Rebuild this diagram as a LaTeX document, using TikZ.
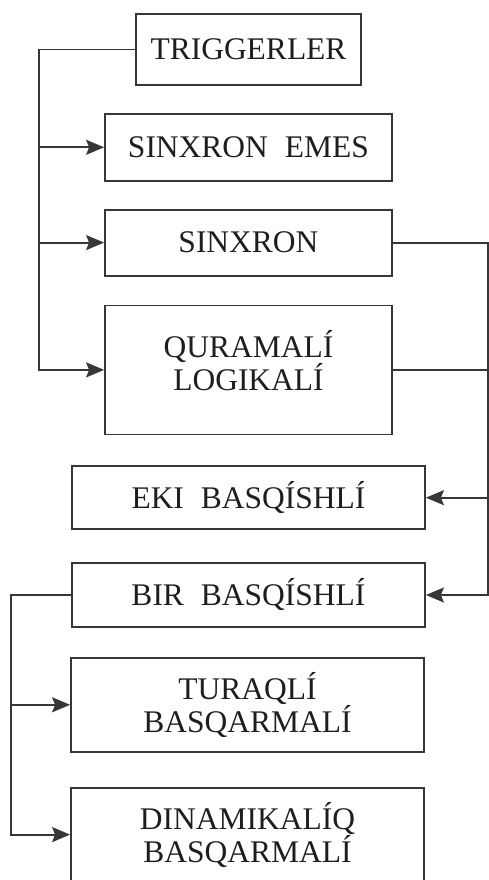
\documentclass[tikz,border=0pt]{standalone}
\usepackage{fontspec}
\setmainfont{Liberation Serif}
\usetikzlibrary{arrows.meta,positioning}
\definecolor{LineGray}{RGB}{55,55,55}
\definecolor{TextBlack}{RGB}{30,30,30}
\newcommand{\boxfont}{\fontsize{31.5}{33}\selectfont}
\newcommand{\wgap}{\hspace{17pt}}
\tikzset{
  kind/.style={draw=LineGray, line width=1.8pt, inner sep=0pt, align=center,
    font=\boxfont, text=TextBlack},
  topbox/.style={kind, minimum width=225pt, minimum height=71pt},
  midbox/.style={kind, minimum width=287pt, minimum height=67pt},
  lowbox/.style={kind, minimum width=353pt, minimum height=64pt},
  wire/.style={line width=1.8pt, LineGray},
  arrow/.style={-{Stealth[length=18pt, width=15pt, inset=3pt]}, line width=1.8pt, LineGray}
}
\begin{document}
\begin{tikzpicture}[node distance=28pt]
  \useasboundingbox (0,0) rectangle (488pt,-880pt);
  \node[topbox] (trig) at (248.5pt,-49.5pt) {TRIGGERLER};
  \node[midbox, below=27pt of trig] (emes) {SINXRON\wgap EMES};
  \node[midbox, minimum height=66pt, below=27pt of emes] (sinx) {SINXRON};
  \node[midbox, minimum height=129pt, below=of sinx] (quram) {};
  \node[kind, draw=none, text=TextBlack] (quramtext) at ([yshift=9pt]quram.center) {QURAMALÍ\\LOGIKALÍ};
  \node[lowbox, minimum height=63pt, below=30pt of quram] (eki) {EKI\wgap BASQÍSHLÍ};
  \node[lowbox, below=32pt of eki] (bir) {BIR\wgap BASQÍSHLÍ};
  \node[lowbox, minimum height=94pt, below=29pt of bir, xshift=-1pt] (tur) {TURAQLÍ\\BASQARMALÍ};
  \node[lowbox, minimum height=94pt, below=34pt of tur] (dina) {DINAMIKALÍQ\\BASQARMALÍ};
  % left branch
  \coordinate (lbus) at ([xshift=-96pt]trig.west);
  \draw[arrow] (trig.west) -- (lbus) |- (quram.west);
  \draw[arrow] (lbus |- emes.west) -- (emes.west);
  \draw[arrow] (lbus |- sinx.west) -- (sinx.west);
  % right branch
  \coordinate (rbus) at ([xshift=95pt]sinx.east);
  \draw[arrow] (sinx.east) -- (rbus) |- (bir.east);
  \draw[wire] (quram.east) -- (quram.east -| rbus);
  \draw[arrow] (eki.east -| rbus) -- (eki.east);
  % bottom branch
  \coordinate (bbus) at ([xshift=-60pt]bir.west);
  \draw[arrow] (bir.west) -- (bbus) |- (dina.west);
  \draw[arrow] (bbus |- tur.west) -- (tur.west);
\end{tikzpicture}
\end{document}
